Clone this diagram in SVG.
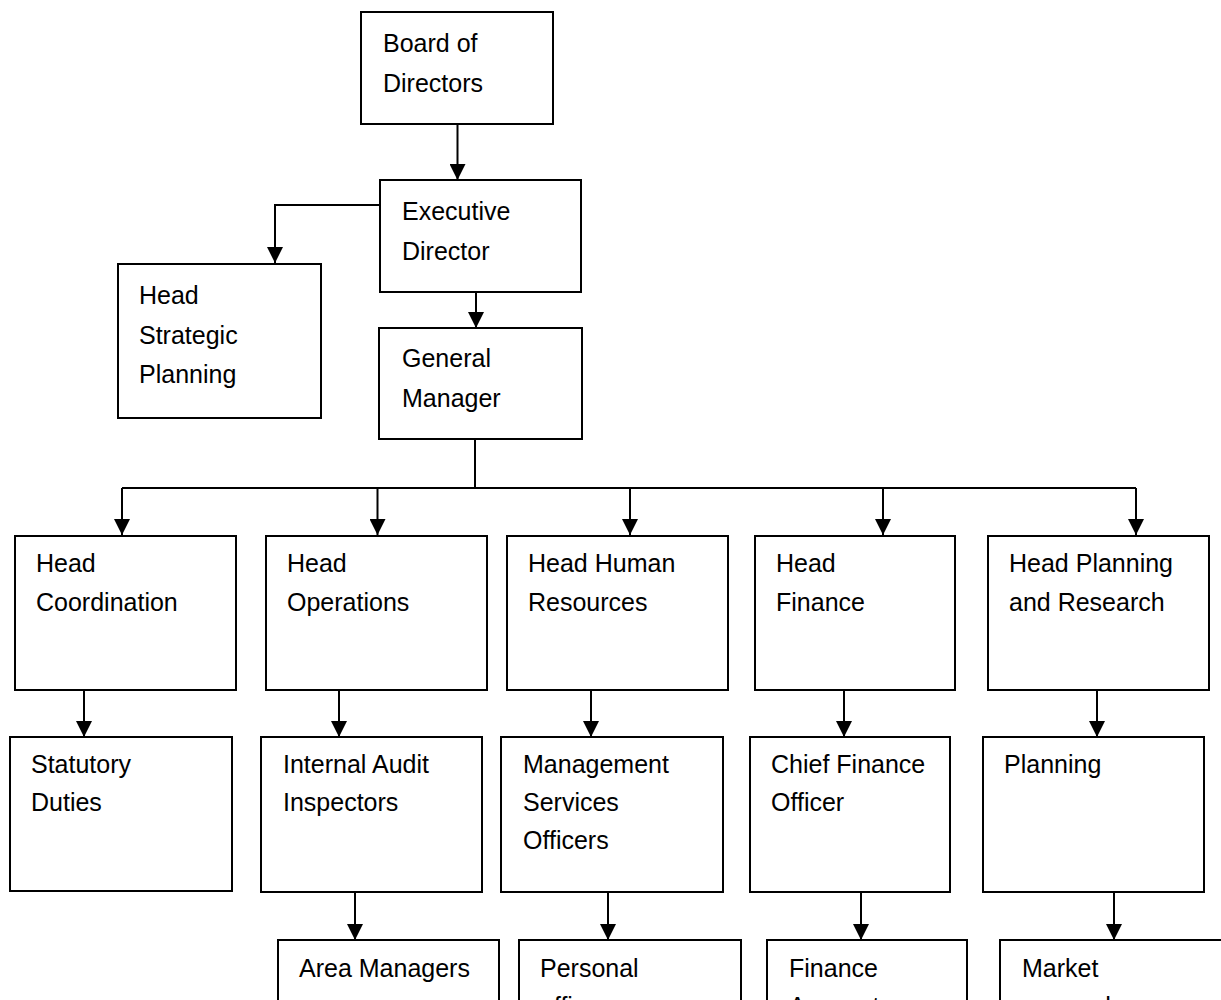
<svg xmlns="http://www.w3.org/2000/svg" width="1221" height="1000" viewBox="0 0 1221 1000">
<style>
.box{fill:#fff;stroke:#000;stroke-width:2}
.lbl{font-family:"Liberation Sans",Arial,sans-serif;font-size:25px;fill:#000}
.con{fill:none;stroke:#000;stroke-width:2}
</style>
<defs>
<marker id="arr" markerUnits="userSpaceOnUse" markerWidth="16" markerHeight="16" refX="16" refY="8" orient="auto" viewBox="0 0 16 16">
<path d="M0,0 L16,8 L0,16 z" fill="#000"/>
</marker>
</defs>
<rect width="1221" height="1000" fill="#fff"/>
<g id="connectors">
<path class="con" d="M457.5,124 V180" marker-end="url(#arr)"/>
<path class="con" d="M476,292 V328" marker-end="url(#arr)"/>
<path class="con" d="M380,205 H275 V263" marker-end="url(#arr)"/>
<path class="con" d="M475,440 V488"/>
<path class="con" d="M122,488 H1136"/>
<path class="con" d="M122,488 V535" marker-end="url(#arr)"/>
<path class="con" d="M377.5,488 V535" marker-end="url(#arr)"/>
<path class="con" d="M630,488 V535" marker-end="url(#arr)"/>
<path class="con" d="M883,488 V535" marker-end="url(#arr)"/>
<path class="con" d="M1136,488 V535" marker-end="url(#arr)"/>
<path class="con" d="M84,691 V737" marker-end="url(#arr)"/>
<path class="con" d="M339,691 V737" marker-end="url(#arr)"/>
<path class="con" d="M591,691 V737" marker-end="url(#arr)"/>
<path class="con" d="M844,691 V737" marker-end="url(#arr)"/>
<path class="con" d="M1097,691 V737" marker-end="url(#arr)"/>
<path class="con" d="M355,892 V940" marker-end="url(#arr)"/>
<path class="con" d="M608,892 V940" marker-end="url(#arr)"/>
<path class="con" d="M861,892 V940" marker-end="url(#arr)"/>
<path class="con" d="M1114,892 V940" marker-end="url(#arr)"/>
</g>
<g id="board">
<rect class="box" x="361" y="12" width="192" height="112"/>
<text class="lbl" x="383" y="52">Board of</text>
<text class="lbl" x="383" y="92">Directors</text>
</g>
<g id="executive">
<rect class="box" x="380" y="180" width="201" height="112"/>
<text class="lbl" x="402" y="220">Executive</text>
<text class="lbl" x="402" y="260">Director</text>
</g>
<g id="strategic">
<rect class="box" x="118" y="264" width="203" height="154"/>
<text class="lbl" x="139" y="304">Head</text>
<text class="lbl" x="139" y="344">Strategic</text>
<text class="lbl" x="139" y="383">Planning</text>
</g>
<g id="gm">
<rect class="box" x="379" y="328" width="203" height="111"/>
<text class="lbl" x="402" y="367">General</text>
<text class="lbl" x="402" y="407">Manager</text>
</g>
<g id="coordination">
<rect class="box" x="15" y="536" width="221" height="154"/>
<text class="lbl" x="36" y="572">Head</text>
<text class="lbl" x="36" y="611">Coordination</text>
</g>
<g id="operations">
<rect class="box" x="266" y="536" width="221" height="154"/>
<text class="lbl" x="287" y="572">Head</text>
<text class="lbl" x="287" y="611">Operations</text>
</g>
<g id="hr">
<rect class="box" x="507" y="536" width="221" height="154"/>
<text class="lbl" x="528" y="572">Head Human</text>
<text class="lbl" x="528" y="611">Resources</text>
</g>
<g id="finance">
<rect class="box" x="755" y="536" width="200" height="154"/>
<text class="lbl" x="776" y="572">Head</text>
<text class="lbl" x="776" y="611">Finance</text>
</g>
<g id="planres">
<rect class="box" x="988" y="536" width="221" height="154"/>
<text class="lbl" x="1009" y="572">Head Planning</text>
<text class="lbl" x="1009" y="611">and Research</text>
</g>
<g id="statutory">
<rect class="box" x="10" y="737" width="222" height="154"/>
<text class="lbl" x="31" y="773">Statutory</text>
<text class="lbl" x="31" y="811">Duties</text>
</g>
<g id="audit">
<rect class="box" x="261" y="737" width="221" height="155"/>
<text class="lbl" x="283" y="773">Internal Audit</text>
<text class="lbl" x="283" y="811">Inspectors</text>
</g>
<g id="mso">
<rect class="box" x="501" y="737" width="222" height="155"/>
<text class="lbl" x="523" y="773">Management</text>
<text class="lbl" x="523" y="811">Services</text>
<text class="lbl" x="523" y="849">Officers</text>
</g>
<g id="cfo">
<rect class="box" x="750" y="737" width="200" height="155"/>
<text class="lbl" x="771" y="773">Chief Finance</text>
<text class="lbl" x="771" y="811">Officer</text>
</g>
<g id="planning">
<rect class="box" x="983" y="737" width="221" height="155"/>
<text class="lbl" x="1004" y="773">Planning</text>
</g>
<g id="area">
<rect class="box" x="278" y="940" width="221" height="100"/>
<text class="lbl" x="299" y="977">Area Managers</text>
</g>
<g id="personal">
<rect class="box" x="519" y="940" width="222" height="100"/>
<text class="lbl" x="540" y="977">Personal</text>
<text class="lbl" x="540" y="1015">officers</text>
</g>
<g id="account">
<rect class="box" x="767" y="940" width="200" height="100"/>
<text class="lbl" x="789" y="977">Finance</text>
<text class="lbl" x="789" y="1015">Account</text>
</g>
<g id="market">
<rect class="box" x="1000" y="940" width="240" height="100"/>
<text class="lbl" x="1022" y="977">Market</text>
<text class="lbl" x="1022" y="1015">research</text>
</g>
</svg>
